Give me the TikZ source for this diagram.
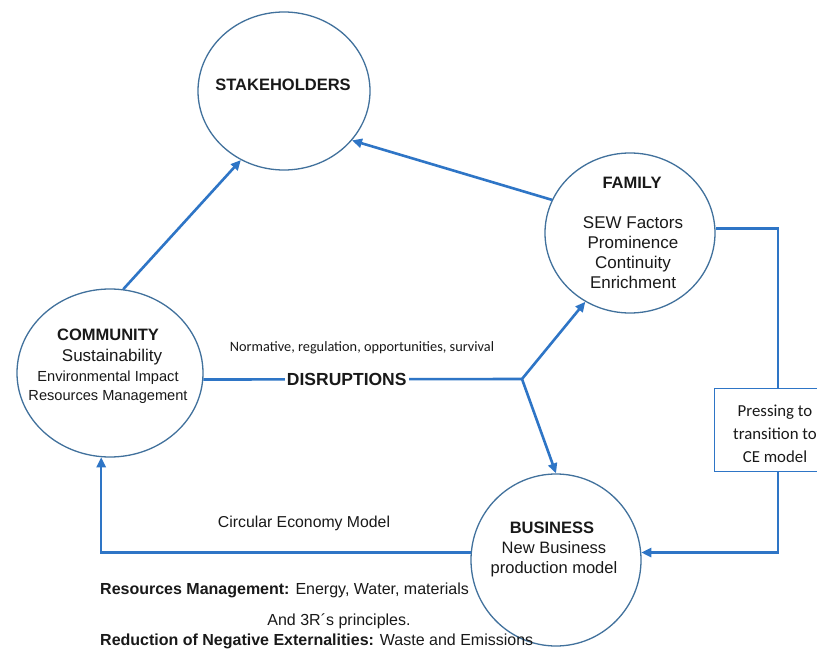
\documentclass[tikz,border=0pt]{standalone}
\usepackage{fontspec}
\setmainfont{Liberation Sans}
\newfontfamily\carlitofont{Carlito}
\usetikzlibrary{shapes.geometric,arrows.meta}
\definecolor{circblue}{HTML}{41719C}
\definecolor{arrblue}{HTML}{2E75C6}
\tikzset{
  circ/.style={draw=circblue, line width=1.3pt, ellipse, inner sep=0pt},
  conn/.style={draw=arrblue, line width=2.6pt},
  arr/.style={conn, -{Triangle[length=10pt,width=9pt]}},
  txt/.style={inner sep=0pt, align=center, text=black!90},
}
\newcommand{\fsz}[1]{\fontsize{#1}{#1}\selectfont}
\begin{document}
\begin{tikzpicture}[x=1pt,y=-1pt]
\useasboundingbox[fill=white] (0,0) rectangle (817,650);
\begin{scope}
\clip (0,0) rectangle (817,650);
% circles
\node[circ, minimum width=172pt, minimum height=158pt] (stake) at (284,91) {};
\node[circ, minimum width=170pt, minimum height=160pt] (fam) at (630,233) {};
\node[circ, minimum width=186pt, minimum height=168pt] (comm) at (110,373) {};
\node[circ, minimum width=170pt, minimum height=172pt] (bus) at (556,560) {};
% box (right side lies outside the picture)
\node[fill=white, minimum width=126pt, minimum height=82pt, inner sep=0pt] (box) at (778,430) {};
\draw[draw=arrblue, line width=1.3pt] (box.north east) -- (box.north west) -- (box.south west) -- (box.south east);
% texts in circles
\node[txt, font=\fsz{16.5}\bfseries] (tstake) at (283,85) {STAKEHOLDERS};
\node[txt, font=\fsz{16.5}\bfseries] (tfam) at (632,183) {FAMILY};
\node[txt, font=\fsz{17}] (tfam2) at (633,253) {SEW Factors\\[3pt]Prominence\\[3pt]Continuity\\[3pt]Enrichment};
\node[txt, font=\fsz{16.5}\bfseries] (tcomm) at (108,335) {COMMUNITY};
\node[txt, font=\fsz{17}] (tcomm2) at (112,357) {Sustainability};
\node[txt, font=\fsz{14.6}] (tcomm3) at (108,387) {Environmental Impact\\[4pt]Resources Management};
\node[txt, font=\fsz{16.5}\bfseries] (tbus) at (552,528) {BUSINESS};
\node[txt, font=\fsz{16.5}] (tbus2) at (554,559) {New Business\\[4pt]production model};
\node[txt, font=\carlitofont\fsz{16.8}] (tbox) at (775,434) {Pressing to\\[6pt]transition to\\[6pt]CE model};
% junction
\coordinate (J) at (522,379);
% connectors
\draw[arr] (comm.81) -- (stake.238);
\draw[arr] (fam.157) -- (stake.324);
\draw[conn] (comm.-4) -- (J) node[pos=0.45, fill=white, inner sep=2pt, font=\fsz{17.5}\bfseries, text=black!90] (dis) {DISRUPTIONS};
\draw[arr] (J) -- (fam.237);
\draw[arr] (J) -- (bus.north);
\draw[conn] (fam.3) -| (box.north);
\draw[arr] (box.south) |- (bus.5);
\draw[arr] (bus.175) -| (comm.264);
% free labels
\node[txt, font=\carlitofont\fsz{14.3}] (norm) at (362,348) {Normative, regulation, opportunities, survival};
\node[txt, font=\fsz{15.8}] (cem) at (304,523) {Circular Economy Model};
\node[txt, font=\fsz{16}, anchor=west] (rm) at (100,590) {\bfseries Resources Management: \mdseries Energy, Water, materials};
\node[txt, font=\fsz{16}] (r3) at (339,621) {And 3R´s principles.};
\node[txt, font=\fsz{16}, anchor=west] (rn) at (100,641) {\bfseries Reduction of Negative Externalities: \mdseries Waste and Emissions};
\end{scope}
\end{tikzpicture}
\end{document}
